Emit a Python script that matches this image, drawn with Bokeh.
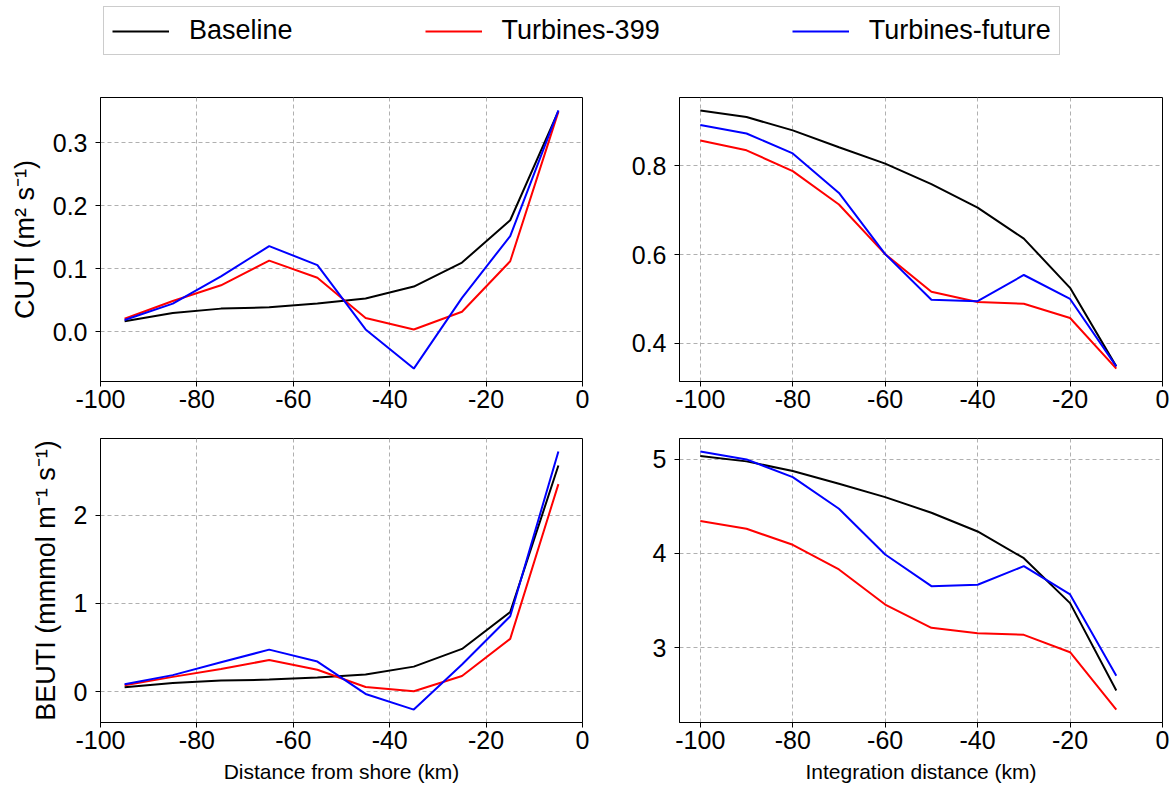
from bokeh.plotting import figure
from bokeh.layouts import column, row
from bokeh.models import Range1d, Legend, LegendItem, FixedTicker, NumeralTickFormatter
from bokeh.embed import file_html
from bokeh.resources import INLINE

# ---------------- data ----------------
series_names = ["Baseline", "Turbines-399", "Turbines-future"]
series_colors = ["black", "#ff0000", "#0000ff"]

x_shore = [-95, -85, -75, -65, -55, -45, -35, -25, -15, -5]
x_integ = [-100, -90, -80, -70, -60, -50, -40, -30, -20, -10]

cuti_baseline = [0.017, 0.030, 0.037, 0.039, 0.045, 0.053, 0.072, 0.110, 0.177, 0.350]
cuti_t399 = [0.021, 0.049, 0.074, 0.113, 0.086, 0.022, 0.004, 0.032, 0.112, 0.349]
cuti_future = [0.019, 0.045, 0.088, 0.136, 0.106, 0.004, -0.058, 0.054, 0.152, 0.351]

cuti_int_baseline = [0.925, 0.910, 0.880, 0.842, 0.805, 0.759, 0.706, 0.636, 0.525, 0.348]
cuti_int_t399 = [0.857, 0.835, 0.788, 0.713, 0.601, 0.516, 0.493, 0.489, 0.457, 0.343]
cuti_int_future = [0.892, 0.873, 0.828, 0.739, 0.601, 0.498, 0.495, 0.554, 0.500, 0.348]

beuti_baseline = [0.053, 0.100, 0.128, 0.139, 0.162, 0.196, 0.286, 0.486, 0.904, 2.56]
beuti_t399 = [0.075, 0.170, 0.260, 0.360, 0.250, 0.056, 0.008, 0.180, 0.600, 2.35]
beuti_future = [0.087, 0.190, 0.335, 0.478, 0.343, -0.023, -0.200, 0.310, 0.855, 2.72]

beuti_int_baseline = [5.035, 4.979, 4.876, 4.741, 4.599, 4.433, 4.234, 3.950, 3.472, 2.543]
beuti_int_t399 = [4.344, 4.262, 4.092, 3.830, 3.457, 3.209, 3.152, 3.135, 2.950, 2.340]
beuti_int_future = [5.085, 5.000, 4.812, 4.475, 3.989, 3.652, 3.667, 3.865, 3.564, 2.699]

x_ticks = [-100, -80, -60, -40, -20, 0]
cuti_ticks = [0.0, 0.1, 0.2, 0.3]
cuti_int_ticks = [0.4, 0.6, 0.8]
beuti_ticks = [0, 1, 2]
beuti_int_ticks = [3, 4, 5]

cuti_label = "CUTI (m² s⁻¹)"
beuti_label = "BEUTI (mmmol m⁻¹ s⁻¹)"
xlabel_left = "Distance from shore (km)"
xlabel_right = "Integration distance (km)"

FONT = "Liberation Sans"


def yrange(*series):
    vals = [v for s in series for v in s]
    lo, hi = min(vals), max(vals)
    pad = 0.05 * (hi - lo)
    return Range1d(lo - pad, hi + pad)


def make_fig(xr, yr, w, h, bl, br, bt, bb):
    p = figure(width=w, height=h, x_range=xr, y_range=yr,
               output_backend="svg", toolbar_location=None,
               min_border_left=bl, min_border_right=br,
               min_border_top=bt, min_border_bottom=bb)
    p.outline_line_color = "black"
    p.outline_line_width = 1
    p.outline_line_alpha = 1
    p.background_fill_color = "white"
    p.border_fill_color = "white"
    for ax in (p.xaxis[0], p.yaxis[0]):
        ax.major_label_text_font = FONT
        ax.major_label_text_font_size = "25px"
        ax.major_label_text_color = "black"
        ax.axis_label_text_font = FONT
        ax.axis_label_text_font_style = "normal"
        ax.axis_label_text_color = "black"
        ax.axis_line_color = "black"
        ax.major_tick_line_color = "black"
        ax.major_tick_in = 0
        ax.major_tick_out = 5
        ax.minor_tick_line_color = None
    p.xaxis.major_label_standoff = 3
    p.yaxis.major_label_standoff = 8
    p.xaxis.ticker = FixedTicker(ticks=x_ticks)
    p.xaxis.major_label_overrides = {t: str(t) for t in x_ticks}
    p.grid.grid_line_color = "#b0b0b0"
    p.grid.grid_line_dash = "4 3"
    p.grid.grid_line_width = 1
    return p


def add_lines(p, x, ys):
    rs = []
    for y, c in zip(ys, series_colors):
        rs.append(p.line(x=x, y=y, line_color=c, line_width=2))
    return rs


xr_right_start = min(x_integ) - 0.05 * (max(x_integ) - min(x_integ))

# top row
tl = make_fig(Range1d(-100, 0), yrange(cuti_baseline, cuti_t399, cuti_future), 602, 362, 100, 20, 35, 43)
tl.yaxis.ticker = FixedTicker(ticks=cuti_ticks)
tl.yaxis.formatter = NumeralTickFormatter(format="0.0")
tl.yaxis.axis_label = cuti_label
tl.yaxis.axis_label_text_font_size = "27px"
tl.yaxis.axis_label_standoff = 10
add_lines(tl, x_shore, [cuti_baseline, cuti_t399, cuti_future])

tr = make_fig(Range1d(xr_right_start, 0), yrange(cuti_int_baseline, cuti_int_t399, cuti_int_future),
              568, 362, 77, 8, 35, 43)
tr.yaxis.ticker = FixedTicker(ticks=cuti_int_ticks)
tr.yaxis.formatter = NumeralTickFormatter(format="0.0")
add_lines(tr, x_integ, [cuti_int_baseline, cuti_int_t399, cuti_int_future])

# bottom row
bl = make_fig(Range1d(-100, 0), yrange(beuti_baseline, beuti_t399, beuti_future), 602, 366, 100, 20, 14, 68)
bl.yaxis.ticker = FixedTicker(ticks=beuti_ticks)
bl.yaxis.axis_label = beuti_label
bl.yaxis.axis_label_text_font_size = "27px"
bl.yaxis.axis_label_standoff = 10
bl.xaxis.axis_label = xlabel_left
bl.xaxis.axis_label_text_font_size = "21px"
bl.xaxis.axis_label_standoff = 8
add_lines(bl, x_shore, [beuti_baseline, beuti_t399, beuti_future])

br = make_fig(Range1d(xr_right_start, 0), yrange(beuti_int_baseline, beuti_int_t399, beuti_int_future),
              568, 366, 77, 8, 14, 68)
br.yaxis.ticker = FixedTicker(ticks=beuti_int_ticks)
br.xaxis.axis_label = xlabel_right
br.xaxis.axis_label_text_font_size = "21px"
br.xaxis.axis_label_standoff = 8
add_lines(br, x_integ, [beuti_int_baseline, beuti_int_t399, beuti_int_future])

# legend strip: a copy of the top-left series, kept outside this strip's view,
# only so that the legend can show each series' line sample
lf = figure(width=1170, height=62, x_range=Range1d(0, 1), y_range=Range1d(0, 1),
            x_axis_type=None, y_axis_type=None, output_backend="svg",
            toolbar_location=None, min_border=0)
lf.outline_line_color = None
lf.grid.visible = False
legend_renderers = add_lines(lf, x_shore, [cuti_baseline, cuti_t399, cuti_future])
items = [LegendItem(label=name, renderers=[r]) for name, r in zip(series_names, legend_renderers)]
legend = Legend(items=items, location=(103, 7), orientation="horizontal",
                label_text_font=FONT, label_text_font_size="27px", label_text_color="black",
                glyph_width=57, label_standoff=20, spacing=132, padding=8, margin=0,
                border_line_color="#cccccc", border_line_width=1, border_line_alpha=1,
                background_fill_color="white", background_fill_alpha=1)
lf.add_layout(legend)

layout = column(lf, row(tl, tr), row(bl, br))

open("out.html", "w").write(file_html(layout, INLINE))
